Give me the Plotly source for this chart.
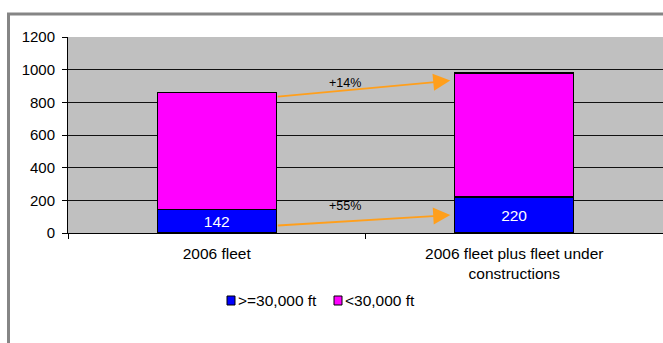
import plotly.graph_objects as go

# Fleet composition by cruise altitude capability
categories = ["2006 fleet", "2006 fleet plus fleet under<br>constructions"]
high_alt = [142, 220]      # >=30,000 ft
low_alt = [718, 760]       # <30,000 ft
series_names = [">=30,000 ft", "<30,000 ft"]
series_colors = ["#0000FF", "#FF00FF"]
growth_labels = ["+14%", "+55%"]
y_ticks = [0, 200, 400, 600, 800, 1000, 1200]

totals = [h + l for h, l in zip(high_alt, low_alt)]

FONT = "Liberation Sans, Arial, Helvetica, sans-serif"
ORANGE = "#FF9F1C"

# plot area geometry (px) used to place the hand-built legend and frame
W, H = 663, 343
ML, MR, MT, MB = 68, 0, 37, 110
PW, PH = W - ML - MR, H - MT - MB


def px_x(px):
    return (px - ML) / PW


def px_y(py):
    return (H - MB - py) / PH


fig = go.Figure()
fig.add_trace(go.Bar(
    x=categories, y=high_alt, name=series_names[0],
    marker=dict(color=series_colors[0], line=dict(color="#000000", width=1.3)),
    width=0.4,
    text=[str(v) for v in high_alt], textposition="inside",
    insidetextanchor="middle",
    textfont=dict(color="white", size=15.5, family=FONT),
    showlegend=False,
))
fig.add_trace(go.Bar(
    x=categories, y=low_alt, name=series_names[1],
    marker=dict(color=series_colors[1], line=dict(color="#000000", width=1.3)),
    width=0.4,
    hoverinfo="skip",
    showlegend=False,
))

# Growth arrows from the 2006 bars towards the expanded fleet bars
arrow_specs = [
    (totals[0] * 0.97, totals[1] * 0.952, growth_labels[0], totals[1] * 0.937),
    (high_alt[0] * 0.32, high_alt[1] * 0.5, growth_labels[1], high_alt[1] * 0.74),
]
for y_start, y_end, label, y_label in arrow_specs:
    fig.add_annotation(
        x=0.785, y=y_end, xref="x", yref="y",
        ax=0.2, ay=y_start, axref="x", ayref="y",
        showarrow=True, arrowhead=2, arrowsize=1.9, arrowwidth=1.8,
        arrowcolor=ORANGE, text="",
    )
    fig.add_annotation(
        x=0.43, y=y_label, xref="x", yref="y", text=label,
        showarrow=False, font=dict(size=12.5, color="#000000", family=FONT),
    )

# Legend: small outlined swatches followed by their labels
legend_swatch_left = [227, 334]
for left, name, color in zip(legend_swatch_left, series_names, series_colors):
    fig.add_shape(
        type="rect", xref="paper", yref="paper",
        x0=px_x(left), x1=px_x(left + 8), y0=px_y(305), y1=px_y(296),
        fillcolor=color, line=dict(color="#000000", width=1),
    )
    fig.add_annotation(
        x=px_x(left + 9), y=px_y(300.5), xref="paper", yref="paper",
        xanchor="left", yanchor="middle", text=name, showarrow=False,
        font=dict(size=15.5, color="#000000", family=FONT),
    )

# Outer frame around the chart
fig.add_shape(
    type="rect", xref="paper", yref="paper",
    x0=px_x(8.5), x1=1.2, y0=-1.0, y1=px_y(14),
    line=dict(color="#858585", width=3), fillcolor="rgba(0,0,0,0)",
    layer="below",
)

fig.update_layout(
    barmode="stack",
    width=W, height=H,
    margin=dict(l=ML, r=MR, t=MT, b=MB),
    paper_bgcolor="white",
    plot_bgcolor="#C0C0C0",
    font=dict(family=FONT, size=15, color="#000000"),
    showlegend=False,
    xaxis=dict(
        type="category", range=[-0.5, 1.5],
        showline=True, linecolor="#000000", linewidth=1,
        ticks="outside", tickson="boundaries", ticklen=5, tickcolor="#000000",
        tickfont=dict(size=15.5), showgrid=False, ticklabelstandoff=6,
    ),
    yaxis=dict(
        range=[0, 1200], tickvals=y_ticks,
        showline=True, linecolor="#000000", linewidth=1,
        ticks="outside", ticklen=5, tickcolor="#000000",
        showgrid=True, gridcolor="#111111", gridwidth=1,
        tickfont=dict(size=15), zeroline=False, ticklabelstandoff=4,
    ),
)

fig.write_html("out.html")
